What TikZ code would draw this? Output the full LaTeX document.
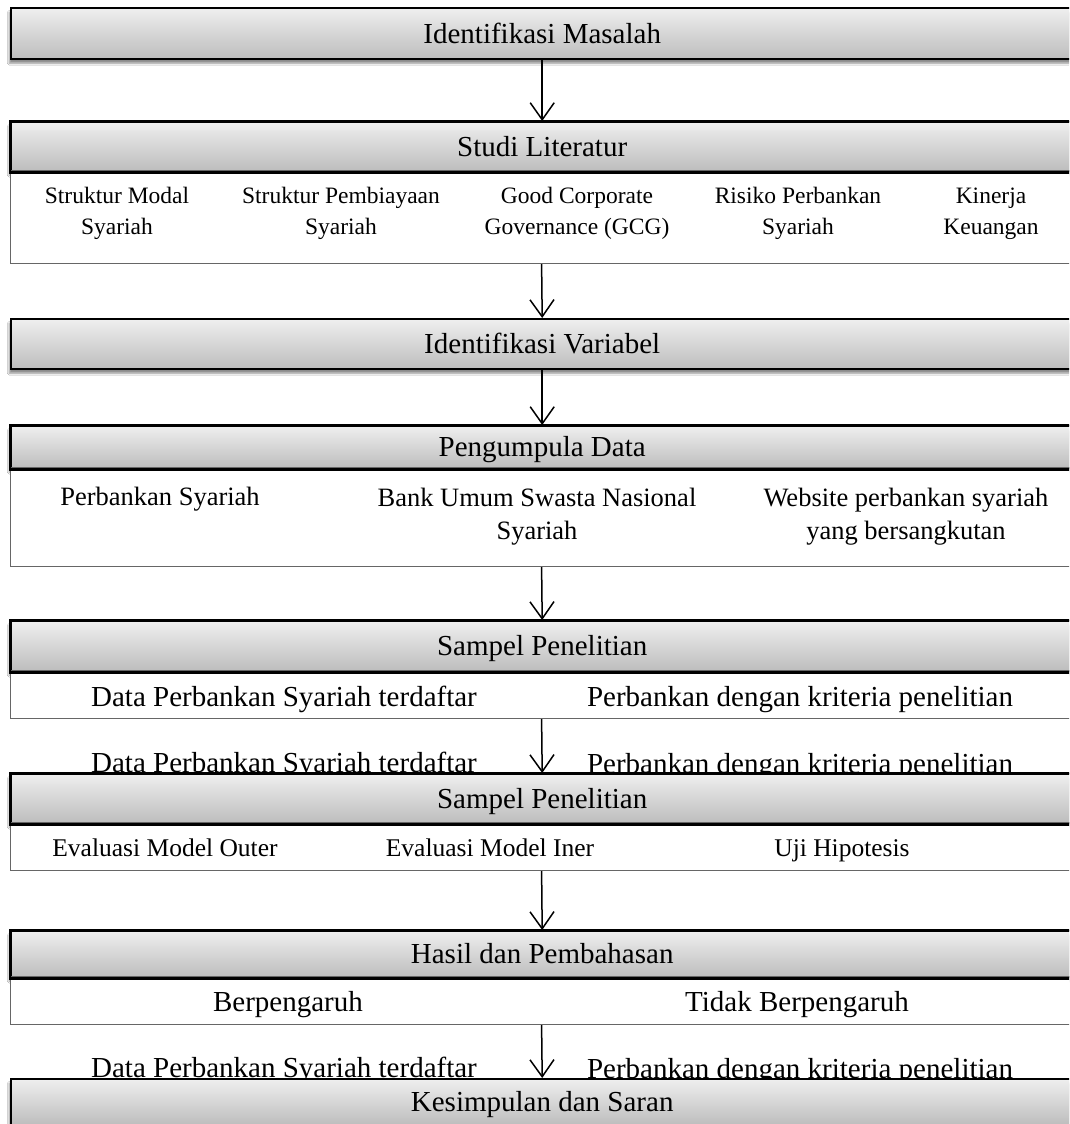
\documentclass[tikz,border=0pt]{standalone}
\usepackage{fontspec}
\setmainfont{Liberation Serif}
\usetikzlibrary{arrows.meta,shadows.blur}
\begin{document}
\begin{tikzpicture}[x=1pt,y=-1pt,
  hdr/.style={rectangle, draw=black, line width=2.4pt, top color=gray!13, bottom color=gray!52,
    anchor=north west, minimum width=1062pt, inner sep=0pt,
    font=\fontsize{29}{33}\selectfont, text height=22pt, text depth=3pt,
    blur shadow={shadow xshift=-2pt, shadow yshift=-4pt, shadow blur steps=8, shadow opacity=45}},
  hdrline/.style={draw=black, line width=2.4pt},
  bodybox/.style={rectangle, draw=black!60, line width=1.2pt, fill=white,
    anchor=north west, minimum width=1062pt, inner sep=0pt},
  bt/.style={align=center, inner sep=0pt},
  fsA/.style={font=\fontsize{23.5}{31}\selectfont},
  fsB/.style={font=\fontsize{26.5}{33}\selectfont},
  oneB/.style={fsB, text height=18.5pt, text depth=6.5pt},
  fsC/.style={font=\fontsize{29}{33}\selectfont},
  oneC/.style={fsC, text height=20pt, text depth=7pt},
  oneD/.style={font=\fontsize{25.5}{30}\selectfont, text height=18pt, text depth=6pt},
  arr/.style={-{Straight Barb[length=17pt,width=24pt]}, line width=1.5pt, black}]
\useasboundingbox (0,0) rectangle (1069,1124);
\clip (0,0) rectangle (1069,1124);
\fill[white] (0,0) rectangle (1069,1124);

% loose captions sitting on top of two headers
\node[bt,fsC,anchor=base] (fa1) at (284,772) {Data Perbankan Syariah terdaftar};
\node[bt,fsC,anchor=base] (fa2) at (800,773) {Perbankan dengan kriteria penelitian};
\node[bt,fsC,anchor=base] (fb1) at (284,1077) {Data Perbankan Syariah terdaftar};
\node[bt,fsC,anchor=base] (fb2) at (800,1078) {Perbankan dengan kriteria penelitian};

% step headers
\node[hdr, minimum height=51pt] (h1) at (10,7) {Identifikasi Masalah};
\node[hdr, minimum height=49pt] (h2) at (10,121) {Studi Literatur};
\node[hdr, minimum height=50pt] (h3) at (10,318) {Identifikasi Variabel};
\node[hdr, minimum height=42pt] (h4) at (10,425) {Pengumpula Data};
\node[hdr, minimum height=50pt] (h5) at (10,620) {Sampel Penelitian};
\node[hdr, minimum height=49pt] (h6) at (10,773) {Sampel Penelitian};
\node[hdr, minimum height=46pt] (h7) at (10,930) {Hasil dan Pembahasan};
\node[hdr, minimum height=46pt] (h8) at (10,1078) {Kesimpulan dan Saran};

% detail boxes under the headers
\node[bodybox, minimum height=93pt] (b2) at (10,170) {};
\node[bodybox, minimum height=99pt] (b4) at (10,467) {};
\node[bodybox, minimum height=48pt] (b5) at (10,670) {};
\node[bodybox, minimum height=48pt] (b6) at (10,822) {};
\node[bodybox, minimum height=48pt] (b7) at (10,976) {};

% redraw header outlines over the detail boxes
\foreach \h in {h2,h4,h5,h6,h7}
  \draw[hdrline] (\h.north west) rectangle (\h.south east);

% Studi Literatur
\node[bt,fsA] (t21) at (117,213.5) {Struktur Modal\\Syariah};
\node[bt,fsA] (t22) at (341,213.5) {Struktur Pembiayaan\\Syariah};
\node[bt,fsA] (t23) at (577,213.5) {Good Corporate\\Governance (GCG)};
\node[bt,fsA] (t24) at (798,213.5) {Risiko Perbankan\\Syariah};
\node[bt,fsA] (t25) at (991,213.5) {Kinerja\\Keuangan};

% Pengumpula Data
\node[bt,oneB] (t41) at (160,499) {Perbankan Syariah};
\node[bt,fsB] (t42) at (537,516.5) {Bank Umum Swasta Nasional\\Syariah};
\node[bt,fsB] (t43) at (906,516.5) {Website perbankan syariah\\yang bersangkutan};

% Sampel Penelitian
\node[bt,oneC] (t51) at (284,700) {Data Perbankan Syariah terdaftar};
\node[bt,oneC] (t52) at (800,700) {Perbankan dengan kriteria penelitian};

% second Sampel Penelitian
\node[bt,oneD] (t61) at (165,850) {Evaluasi Model Outer};
\node[bt,oneD] (t62) at (490,850) {Evaluasi Model Iner};
\node[bt,oneD] (t63) at (842,850) {Uji Hipotesis};

% Hasil dan Pembahasan
\node[bt,oneC] (t71) at (288,1005) {Berpengaruh};
\node[bt,oneC] (t72) at (797,1005) {Tidak Berpengaruh};

% flow arrows
\draw[arr] (h1.south) -- (h2.north);
\draw[arr] (b2.south) -- (h3.north);
\draw[arr] (h3.south) -- (h4.north);
\draw[arr] (b4.south) -- (h5.north);
\draw[arr] (b5.south) -- (h6.north);
\draw[arr] (b6.south) -- (h7.north);
\draw[arr] (b7.south) -- (h8.north);
\end{tikzpicture}
\end{document}
